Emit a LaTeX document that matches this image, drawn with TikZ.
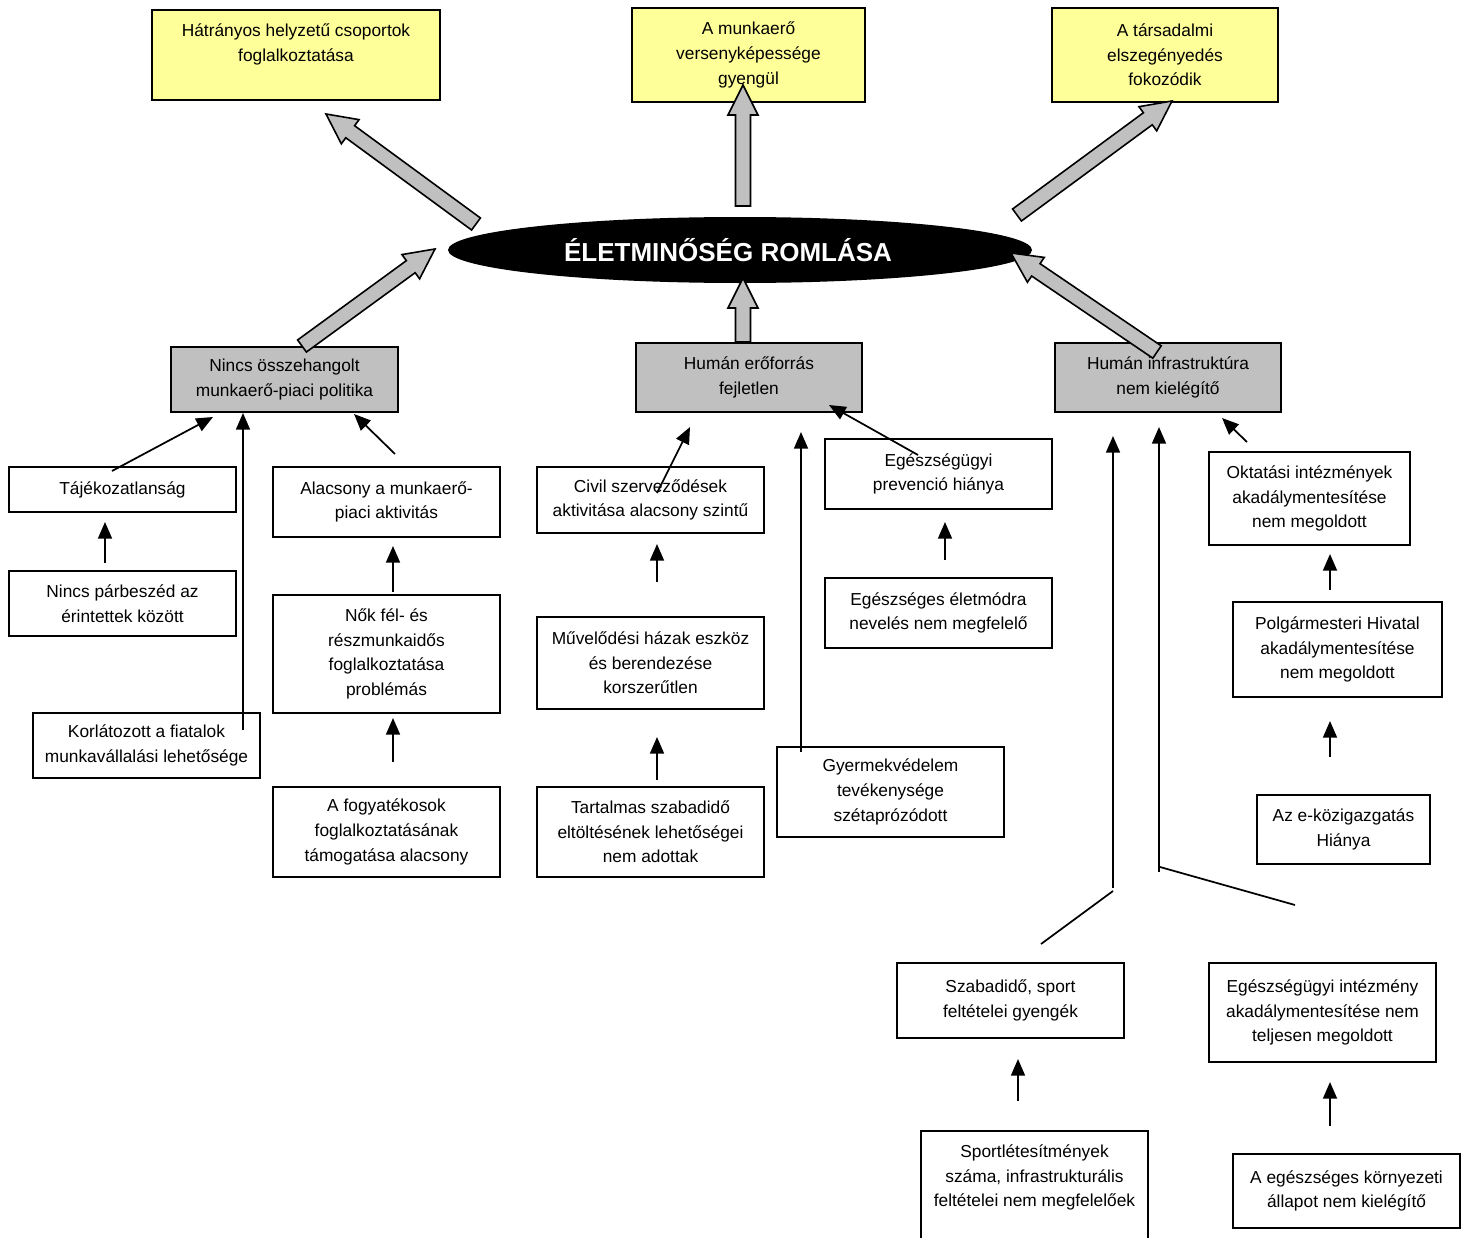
\documentclass[tikz,border=0pt]{standalone}
\usepackage{fontspec}
\setmainfont{Liberation Sans}
\usetikzlibrary{shapes.geometric,arrows.meta,calc}

\definecolor{boxyellow}{RGB}{255,255,153}
\definecolor{boxgray}{RGB}{192,192,192}
\newcommand\boxfont{\fontsize{13}{18.5}\selectfont}
% wide grey arrow with black outline, from #1 to #2
\newcommand\fatarrow[2]{%
  \coordinate (fa-h) at ($(#2)!22.5pt!(#1)$);
  \draw[fat] ($(#1)!5.6pt!90:(#2)$) -- ($(fa-h)!5.6pt!90:(#2)$) -- ($(fa-h)!11.25pt!90:(#2)$) -- (#2)
    -- ($(fa-h)!11.25pt!-90:(#2)$) -- ($(fa-h)!5.6pt!-90:(#2)$) -- ($(#1)!5.6pt!-90:(#2)$) -- cycle;}

\begin{document}
\begin{tikzpicture}[x=0.75pt,y=0.75pt,yscale=-1,xscale=1,
  wbox/.style={draw, line width=1.3pt, fill=white, align=center, inner sep=1pt, font=\boxfont, minimum width=170.25pt},
  gbox/.style={wbox, fill=boxgray},
  ybox/.style={wbox, fill=boxyellow},
  core/.style={ellipse, fill=black, text=white, inner sep=0pt, minimum width=438pt, minimum height=49.5pt, font=\fontsize{19.5}{22}\selectfont\bfseries},
  conn/.style={line width=1.3pt, -{Triangle[length=12.5pt,width=10.5pt]}},
  fat/.style={draw=black, line width=1.2pt, fill=boxgray, line join=miter}]
\useasboundingbox (0,0) rectangle (1471,1238);

% Ellipse
\node[core] (core) at (740,250) {ÉLETMINŐSÉG ROMLÁSA\hspace*{18pt}};

% Yellow boxes
\node[ybox, minimum width=216pt, minimum height=67.5pt] (hatrany) at (296,55) {Hátrányos helyzetű csoportok\\foglalkoztatása\\\mbox{}};
\node[ybox, minimum width=174.75pt, minimum height=70.5pt] (verseny) at (748.5,55) {A munkaerő\\versenyképessége\\gyengül};
\node[ybox, minimum width=169.5pt, minimum height=70.5pt] (szegeny) at (1165,55) {A társadalmi\\elszegényedés\\fokozódik};

% Grey boxes
\node[gbox, minimum height=48.75pt] (politika) at (284.5,379.5) {Nincs összehangolt\\munkaerő-piaci politika};
\node[gbox, minimum width=169.5pt, minimum height=51.75pt] (eroforras) at (749,377.5) {Humán erőforrás\\fejletlen};
\node[gbox, minimum width=169.5pt, minimum height=51.75pt] (infra) at (1168,377.5) {Humán infrastruktúra\\nem kielégítő};

% Left column
\node[wbox, minimum height=33.75pt] (tajek) at (122.5,489.5) {Tájékozatlanság};
\node[wbox, minimum height=48.75pt] (parbeszed) at (122.5,603.5) {Nincs párbeszéd az\\érintettek között};
\node[wbox, minimum height=48.75pt] (fiatal) at (146.5,745.5) {Korlátozott a fiatalok\\munkavállalási lehetősége};
\node[wbox, minimum height=52.5pt] (aktiv) at (386.5,502) {Alacsony a munkaerő-\\piaci aktivitás};
\node[wbox, minimum height=88.5pt] (nok) at (386.5,654) {Nők fél- és\\részmunkaidős\\foglalkoztatása\\problémás};
\node[wbox, minimum height=67.5pt] (fogyat) at (386.5,832) {A fogyatékosok\\foglalkoztatásának\\támogatása alacsony};

% Middle column
\node[wbox, minimum height=49.5pt] (civil) at (650.5,500) {Civil szerveződések\\aktivitása alacsony szintű};
\node[wbox, minimum height=69pt] (muvel) at (650.5,663) {Művelődési házak eszköz\\és berendezése\\korszerűtlen};
\node[wbox, minimum height=67.5pt] (szabad) at (650.5,832) {Tartalmas szabadidő\\eltöltésének lehetőségei\\nem adottak};
\node[wbox, minimum height=52.5pt] (prevencio) at (938.5,474) {Egészségügyi\\prevenció hiánya};
\node[wbox, minimum height=52.5pt] (eletmod) at (938.5,613) {Egészséges életmódra\\nevelés nem megfelelő};
\node[wbox, minimum height=67.5pt] (gyermek) at (890.5,792) {Gyermekvédelem\\tevékenysége\\szétaprózódott};

% Right column
\node[wbox, minimum width=150.75pt, minimum height=69.75pt] (oktatas) at (1309.5,498.5) {Oktatási intézmények\\akadálymentesítése\\nem megoldott};
\node[wbox, minimum width=156.75pt, minimum height=71.25pt] (hivatal) at (1337.5,649.5) {Polgármesteri Hivatal\\akadálymentesítése\\nem megoldott};
\node[wbox, minimum width=129.75pt, minimum height=51.75pt] (ekozig) at (1343.5,829.5) {Az e-közigazgatás\\Hiánya};
\node[wbox, minimum height=56.25pt] (sport) at (1010.5,1000.5) {Szabadidő, sport\\feltételei gyengék};
\node[wbox, minimum height=74.25pt] (intezmeny) at (1322.5,1012.5) {Egészségügyi intézmény\\akadálymentesítése nem\\teljesen megoldott};
\node[wbox, minimum height=85.5pt] (letesit) at (1034.5,1188) {Sportlétesítmények\\száma, infrastrukturális\\feltételei nem megfelelőek\\\mbox{}};
\node[wbox, minimum height=55.5pt] (kornyezet) at (1346.5,1191) {A egészséges környezeti\\állapot nem kielégítő};

% Arrow ends
\coordinate (f1a) at (476,224);  \coordinate (f1b) at (326,114);
\coordinate (f2a) at (743,206);  \coordinate (f2b) at (743,85);
\coordinate (f3a) at (1017,215); \coordinate (f3b) at (1172,101);
\coordinate (f4a) at (302,346);  \coordinate (f4b) at (435,249);
\coordinate (f5a) at (743,342);  \coordinate (f5b) at (743,278);
\coordinate (f6a) at (1157,352); \coordinate (f6b) at (1011,253);

% Wide arrows
\fatarrow{f1a}{f1b}
\fatarrow{f2a}{f2b}
\fatarrow{f3a}{f3b}
\fatarrow{f4a}{f4b}
\fatarrow{f5a}{f5b}
\fatarrow{f6a}{f6b}

% Thin arrows
\coordinate (t1) at (112,471);  \coordinate (h1) at (213,417);
\coordinate (t2) at (243,730);  \coordinate (h2) at (243,413);
\coordinate (t3) at (395,454);  \coordinate (h3) at (354,414);
\coordinate (t4) at (105,563);  \coordinate (h4) at (105,522);
\coordinate (t5) at (393,592);  \coordinate (h5) at (393,546);
\coordinate (t6) at (393,762);  \coordinate (h6) at (393,718);
\coordinate (t7) at (657,493);  \coordinate (h7) at (690,427);
\coordinate (t8) at (657,582);  \coordinate (h8) at (657,544);
\coordinate (t9) at (657,780);  \coordinate (h9) at (657,737);
\coordinate (t10) at (801,752); \coordinate (h10) at (801,432);
\coordinate (t11) at (918,455); \coordinate (h11) at (829,405);
\coordinate (t12) at (945,560); \coordinate (h12) at (945,522);
\coordinate (t13) at (1113,888); \coordinate (h13) at (1113,436);
\coordinate (t14) at (1159,872); \coordinate (h14) at (1159,427);
\coordinate (t15) at (1247,442); \coordinate (h15) at (1222,418);
\coordinate (t16) at (1330,590); \coordinate (h16) at (1330,554);
\coordinate (t17) at (1330,757); \coordinate (h17) at (1330,721);
\coordinate (t18) at (1018,1101); \coordinate (h18) at (1018,1059);
\coordinate (t19) at (1330,1126); \coordinate (h19) at (1330,1082);
\foreach \i in {1,...,19}
  \draw[conn] (t\i) -- (h\i);

% Loose lines
\coordinate (l1a) at (1113,891); \coordinate (l1b) at (1041,944);
\coordinate (l2a) at (1160,867); \coordinate (l2b) at (1295,905);
\draw[line width=1.3pt] (l1a) -- (l1b);
\draw[line width=1.3pt] (l2a) -- (l2b);

\end{tikzpicture}
\end{document}
